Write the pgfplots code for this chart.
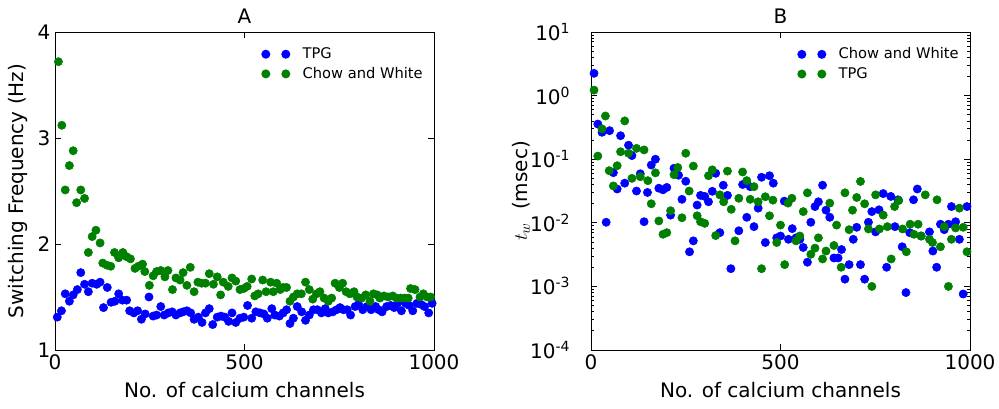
\documentclass[border=0pt]{standalone}
\usepackage{pgfplots}
\pgfplotsset{compat=1.18}
\usepackage{fontspec}
\setmainfont{DejaVu Sans}
\definecolor{mblue}{rgb}{0,0,1}
\definecolor{mgreen}{rgb}{0,0.5,0}
\pgfplotsset{
  mystyle/.style={
    scale only axis, width=284.25pt, height=238.5pt,
    axis line style={line width=0.75pt},
    tick align=inside, major tick length=4.5pt, minor tick length=2.4pt,
    every tick/.style={black, line width=0.6pt},
    tick label style={font=\fontsize{15}{18}\selectfont},
    label style={font=\fontsize{15}{18}\selectfont},
    title style={font=\fontsize{15}{18}\selectfont, yshift=-3pt},
    /pgf/number format/assume math mode=true,
    /pgf/number format/1000 sep={},
    xmin=0, xmax=1000, xtick={0,500,1000},
    xlabel={No. of calcium channels},
    xlabel style={at={(axis description cs:0.5,-0.126)}, anchor=center},
    legend style={draw=none, fill=none, font=\fontsize{11}{13}\selectfont,
      at={(axis description cs:0.533,0.968)}, anchor=north west, row sep=1pt},
    legend cell align=left,
  },
  bl/.style={only marks, mark=*, mark size=3.1pt, mblue, mark options={draw=mblue, fill=mblue},
    legend image code/.code={\path[draw=none,fill=none] (0pt,0pt) -- (25.6pt,0pt); \path[draw=none,fill=mblue] (0pt,0pt) circle (3.4pt) (15pt,0pt) circle (3.4pt);}},
  gr/.style={only marks, mark=*, mark size=3.1pt, mgreen, mark options={draw=mgreen, fill=mgreen},
    legend image code/.code={\path[draw=none,fill=none] (0pt,0pt) -- (25.6pt,0pt); \path[draw=none,fill=mgreen] (0pt,0pt) circle (3.4pt) (15pt,0pt) circle (3.4pt);}},
}
\begin{document}
\begin{tikzpicture}
\path[use as bounding box] (0,0) rectangle (749.25pt,306pt);
\begin{axis}[mystyle, at={(41.25pt,43.5pt)}, anchor=south west,
  ymin=1, ymax=4, ytick={1,2,3,4},
  title={A},
  ylabel={Switching Frequency (Hz)},
  ylabel style={at={(axis description cs:-0.098,0.5)}, anchor=center},
]
\addplot[bl] coordinates {
(6,1.31) (17,1.37) (27,1.53) (38,1.46) (48,1.52) (59,1.57) (68,1.73) (78,1.62) (88,1.55) (98,1.63)
(110,1.62) (119,1.64) (128,1.40) (138,1.59) (148,1.45) (158,1.46) (168,1.53) (178,1.47) (189,1.47) (197,1.37)
(208,1.35) (218,1.37) (228,1.29) (238,1.34) (248,1.50) (259,1.32) (268,1.33) (279,1.41) (288,1.33) (299,1.35)
(309,1.36) (319,1.33) (330,1.35) (338,1.36) (348,1.37) (358,1.35) (367,1.29) (378,1.31) (388,1.26) (397,1.35)
(407,1.39) (416,1.24) (428,1.31) (438,1.32) (448,1.31) (458,1.27) (467,1.35) (477,1.26) (488,1.30) (498,1.31)
(508,1.42) (519,1.30) (530,1.36) (541,1.35) (551,1.34) (560,1.30) (572,1.39) (580,1.33) (592,1.32) (602,1.35)
(611,1.38) (620,1.25) (629,1.30) (639,1.41) (651,1.36) (661,1.28) (671,1.33) (682,1.38) (692,1.38) (703,1.35)
(713,1.39) (721,1.35) (733,1.36) (743,1.38) (752,1.40) (761,1.38) (771,1.38) (780,1.33) (792,1.41) (801,1.43)
(812,1.38) (823,1.41) (834,1.38) (846,1.41) (854,1.38) (863,1.36) (875,1.41) (886,1.42) (895,1.40) (904,1.44)
(914,1.37) (925,1.44) (935,1.42) (944,1.37) (955,1.44) (966,1.43) (975,1.41) (986,1.35) (995,1.44)
};
\addlegendentry{TPG}
\addplot[gr] coordinates {
(9,3.72) (18,3.12) (27,2.51) (38,2.74) (48,2.88) (57,2.39) (68,2.51) (78,2.43) (88,1.92) (98,2.07)
(108,2.13) (119,2.01) (126,1.82) (137,1.80) (147,1.79) (157,1.92) (168,1.87) (179,1.92) (189,1.88) (199,1.86)
(211,1.77) (220,1.79) (231,1.81) (237,1.74) (249,1.61) (259,1.70) (268,1.74) (279,1.75) (290,1.69) (298,1.75)
(310,1.57) (319,1.68) (330,1.66) (338,1.73) (348,1.61) (357,1.78) (367,1.55) (377,1.64) (387,1.63) (397,1.63)
(407,1.72) (418,1.62) (428,1.69) (437,1.52) (444,1.64) (457,1.60) (467,1.68) (477,1.65) (488,1.57) (498,1.58)
(507,1.60) (519,1.67) (527,1.51) (536,1.53) (548,1.66) (557,1.55) (569,1.64) (576,1.55) (585,1.63) (594,1.57)
(602,1.59) (611,1.59) (620,1.46) (629,1.50) (639,1.53) (650,1.53) (661,1.64) (671,1.57) (680,1.48) (690,1.53)
(699,1.55) (710,1.49) (721,1.46) (730,1.49) (739,1.63) (750,1.59) (759,1.63) (768,1.55) (778,1.53) (789,1.55)
(797,1.50) (809,1.49) (820,1.52) (831,1.46) (840,1.53) (850,1.52) (857,1.49) (868,1.51) (879,1.50) (891,1.51)
(901,1.49) (912,1.49) (923,1.49) (932,1.49) (938,1.58) (950,1.57) (963,1.50) (972,1.53) (982,1.50) (991,1.50)
};
\addlegendentry{Chow and White}
\end{axis}
\begin{axis}[mystyle, at={(443.25pt,43.5pt)}, anchor=south west,
  ymode=log, ymin=1e-4, ymax=10,
  ytick={1e-4,1e-3,1e-2,1e-1,1,10},
  yticklabels={10\textsuperscript{-4},10\textsuperscript{-3},10\textsuperscript{-2},10\textsuperscript{-1},10\textsuperscript{0},10\textsuperscript{1}},
  yticklabel style={xshift=-12pt},
  title={B},
  ylabel={$t_w$\ \ (msec)},
  ylabel style={at={(axis description cs:-0.185,0.5)}, anchor=center},
]
\addplot[bl] coordinates {
(8,2.24) (18,0.357) (29,0.265) (40,0.0102) (49,0.281) (59,0.0614) (69,0.034) (78,0.234) (89,0.042) (99,0.166)
(108,0.114) (120,0.0316) (130,0.059) (140,0.0104) (149,0.030) (159,0.081) (170,0.1) (179,0.035) (190,0.033) (200,0.036)
(210,0.0132) (219,0.072) (231,0.056) (240,0.0234) (250,0.045) (260,0.0035) (270,0.0052) (280,0.019) (289,0.027) (300,0.026)
(310,0.0214) (320,0.0313) (329,0.060) (340,0.007) (349,0.039) (360,0.027) (369,0.0019) (390,0.0075) (400,0.040) (411,0.0122)
(420,0.037) (430,0.0087) (441,0.017) (450,0.052) (460,0.0049) (471,0.055) (481,0.042) (490,0.0058) (500,0.0062) (510,0.0219)
(521,0.0055) (531,0.0081) (541,0.0058) (551,0.0055) (560,0.0041) (571,0.0024) (580,0.0102) (591,0.018) (600,0.0214) (611,0.039)
(620,0.0158) (630,0.0122) (641,0.0028) (652,0.0028) (661,0.0038) (670,0.0013) (681,0.0022) (692,0.0055) (701,0.0085) (711,0.0022)
(722,0.0013) (732,0.0102) (741,0.015) (751,0.0072) (760,0.016) (771,0.0288) (780,0.0020) (791,0.026) (802,0.0087) (810,0.023)
(821,0.0042) (831,0.00080) (841,0.007) (851,0.023) (861,0.034) (871,0.0062) (893,0.0072) (902,0.0036) (912,0.0020) (922,0.0095)
(932,0.0078) (943,0.0095) (951,0.018) (962,0.0104) (972,0.0055) (982,0.00076) (992,0.018)
};
\addlegendentry{Chow and White}
\addplot[gr] coordinates {
(8,1.22) (18,0.112) (29,0.30) (38,0.478) (48,0.066) (59,0.038) (69,0.079) (78,0.131) (89,0.40) (99,0.124)
(108,0.05) (120,0.148) (130,0.053) (140,0.14) (150,0.046) (159,0.0199) (170,0.061) (179,0.0107) (190,0.0066) (200,0.0070)
(210,0.0155) (219,0.057) (229,0.074) (240,0.012) (250,0.124) (259,0.0316) (270,0.078) (280,0.0129) (289,0.0104) (300,0.0098)
(310,0.055) (320,0.068) (329,0.0063) (340,0.0275) (350,0.0214) (360,0.065) (370,0.0163) (380,0.0052) (390,0.0243) (400,0.063)
(411,0.046) (420,0.0234) (430,0.037) (441,0.0214) (450,0.0019) (460,0.0257) (471,0.0129) (480,0.0227) (490,0.0049) (500,0.0092)
(511,0.0022) (520,0.0204) (530,0.0243) (541,0.0052) (551,0.0062) (560,0.015) (571,0.0296) (580,0.0032) (591,0.004) (600,0.0058)
(611,0.0027) (620,0.0036) (630,0.0204) (641,0.0044) (648,0.0092) (660,0.0020) (670,0.0296) (681,0.0078) (690,0.0158) (701,0.025)
(711,0.0447) (722,0.0199) (732,0.0080) (741,0.0010) (751,0.0275) (761,0.008) (771,0.0132) (782,0.0087) (792,0.0027) (801,0.018)
(812,0.0224) (822,0.008) (832,0.0035) (842,0.0095) (852,0.0066) (863,0.0095) (871,0.0062) (882,0.0275) (893,0.0055) (901,0.0049)
(913,0.023) (922,0.0042) (932,0.0087) (943,0.0010) (951,0.0055) (962,0.0083) (972,0.017) (982,0.0085) (992,0.0035)
};
\addlegendentry{TPG}
\end{axis}
\end{tikzpicture}
\end{document}
